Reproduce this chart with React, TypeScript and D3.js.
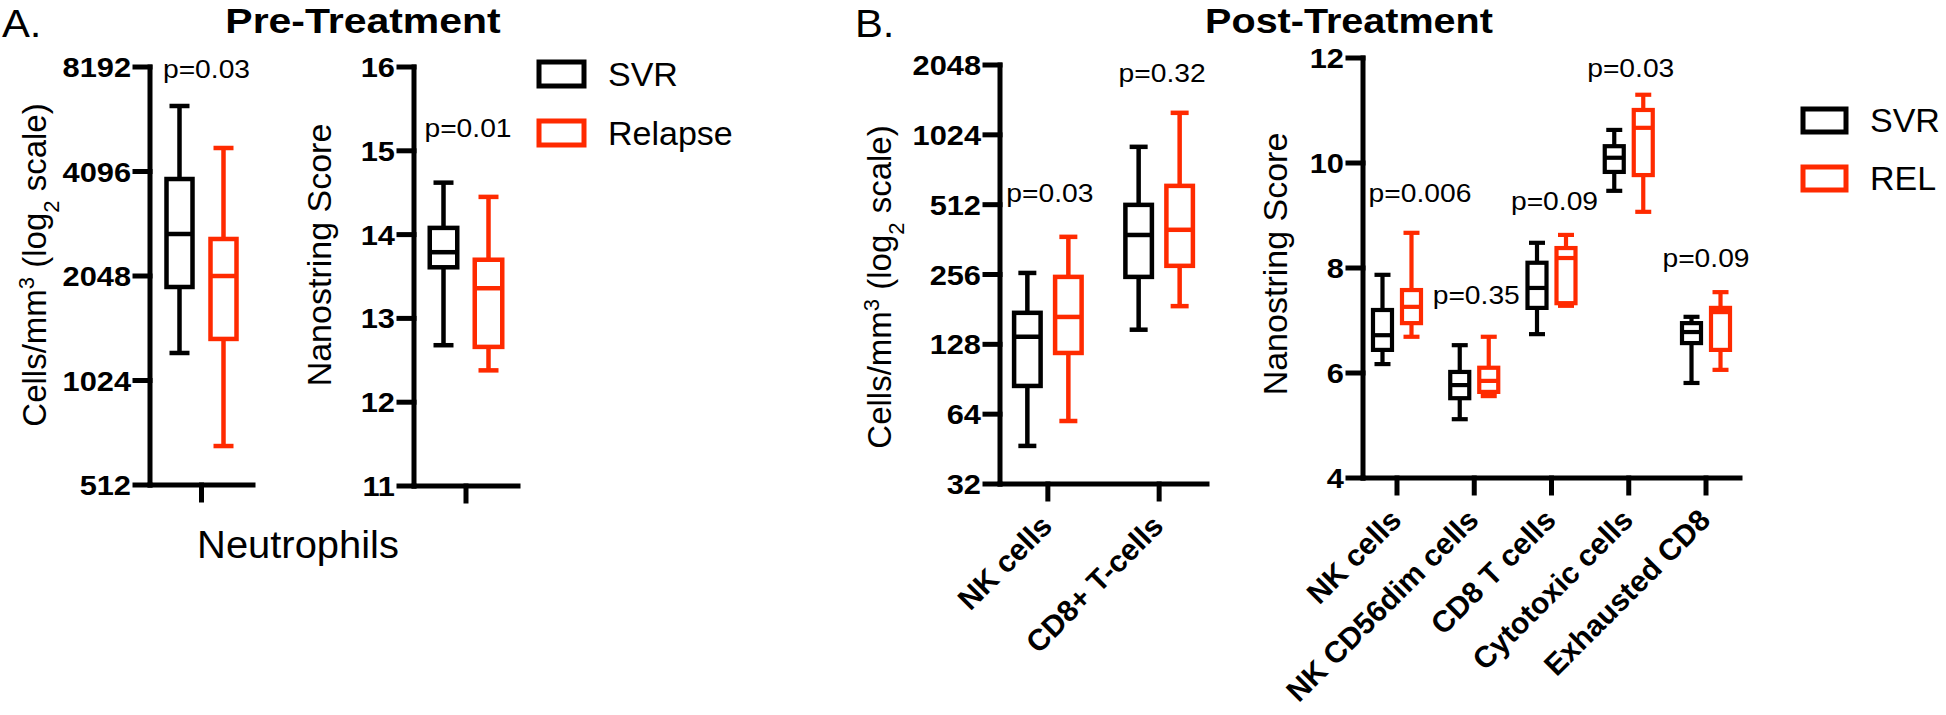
import React from "react";
import * as d3 from "d3";

const FONT = "'Liberation Sans', Arial, Helvetica, sans-serif";
const RED = "#ff2a00";
const BLACK = "#000000";

// ---------------- data (five-number summaries: min, q1, median, q3, max) ----------------
const preCategories = ["Neutrophils"];
const preCountSVR = [[1229, 1904, 2706, 3897, 6325]];
const preCountREL = [[663, 1349, 2048, 2618, 4787]];
const preCountTicks = [512, 1024, 2048, 4096, 8192];
const preCountP = ["p=0.03"];
const preCountPY = [7617];

const preScoreSVR = [[12.68, 13.61, 13.79, 14.08, 14.62]];
const preScoreREL = [[12.38, 12.66, 13.36, 13.7, 14.45]];
const preScoreTicks = [11, 12, 13, 14, 15, 16];
const preScoreP = ["p=0.01"];
const preScorePY = [15.16];

const postCountCategories = ["NK cells", "CD8+ T-cells"];
const postCountSVR = [
  [46.7, 84.7, 138, 175, 260],
  [148, 250, 379, 511, 909],
];
const postCountREL = [
  [59.8, 117.5, 168, 250, 372],
  [187, 279, 399, 617, 1274],
];
const postCountTicks = [32, 64, 128, 256, 512, 1024, 2048];
const postCountP = ["p=0.03", "p=0.32"];
const postCountPY = [526, 1733];

const postScoreCategories = ["NK cells", "NK CD56dim cells", "CD8 T cells", "Cytotoxic cells", "Exhausted CD8"];
const postScoreSVR = [
  [6.17, 6.44, 6.72, 7.2, 7.87],
  [5.12, 5.52, 5.77, 6.02, 6.53],
  [6.74, 7.24, 7.62, 8.1, 8.48],
  [9.47, 9.83, 10.1, 10.32, 10.63],
  [5.81, 6.57, 6.78, 6.95, 7.07],
];
const postScoreREL = [
  [6.69, 6.95, 7.26, 7.58, 8.67],
  [5.56, 5.64, 5.85, 6.1, 6.69],
  [7.28, 7.33, 8.19, 8.38, 8.63],
  [9.07, 9.77, 10.67, 11.01, 11.3],
  [6.06, 6.44, 7.16, 7.24, 7.54],
];
const postScoreTicks = [4, 6, 8, 10, 12];
const postScoreP = ["p=0.006", "p=0.35", "p=0.09", "p=0.03", "p=0.09"];
const postScorePY = [9.26, 7.31, 9.1, 11.64, 8.02];

const preLegend = ["SVR", "Relapse"];
const postLegend = ["SVR", "REL"];

// label nudges (layout only)
const preCountPNudge = [5];
const preScorePNudge = [2];
const postCountPNudge = [2, 3];
const postScorePNudge = [23, 2, 3, 2, 0];

// ---------------- helpers ----------------
type TProps = {
  x: number;
  y: number;
  sx?: number;
  rot?: number;
  anchor?: "start" | "middle" | "end";
  size: number;
  weight?: string;
  dy?: string;
  children: React.ReactNode;
};
function T({ x, y, sx = 1, rot = 0, anchor = "start", size, weight = "normal", dy, children }: TProps) {
  return (
    <text
      transform={`translate(${x},${y}) scale(${sx},1) rotate(${rot})`}
      textAnchor={anchor}
      fontSize={size}
      fontWeight={weight}
      fontFamily={FONT}
      fill={BLACK}
      dy={dy}
    >
      {children}
    </text>
  );
}

function Box({ cx, s, y, w, cap, color, sw }: any) {
  const [mn, q1, md, q3, mx] = s;
  return (
    <g stroke={color} strokeWidth={sw} fill="none">
      <line x1={cx} x2={cx} y1={y(q3)} y2={y(mx)} />
      <line x1={cx} x2={cx} y1={y(q1)} y2={y(mn)} />
      <line x1={cx - cap / 2} x2={cx + cap / 2} y1={y(mx)} y2={y(mx)} />
      <line x1={cx - cap / 2} x2={cx + cap / 2} y1={y(mn)} y2={y(mn)} />
      <rect x={cx - w / 2} y={y(q3)} width={w} height={y(q1) - y(q3)} fill="#ffffff" />
      <line x1={cx - w / 2} x2={cx + w / 2} y1={y(md)} y2={y(md)} />
    </g>
  );
}

type PanelProps = {
  cats: string[];
  svr: number[][];
  rel: number[][];
  ticks: number[];
  log: boolean;
  x0: number;
  x1: number;
  pad: number;
  yTop: number;
  yBottom: number;
  offset: number;
  bw: number;
  cap: number;
  sw: number;
  pLabels: string[];
  pY: number[];
  pNudge: number[];
  rotateLabels: boolean;
};

function BoxPanel(p: PanelProps) {
  const x = d3.scalePoint<string>().domain(p.cats).range([p.x0, p.x1]).padding(p.pad);
  const domain = [p.ticks[0], p.ticks[p.ticks.length - 1]];
  const y: any = p.log
    ? d3.scaleLog().base(2).domain(domain).range([p.yBottom, p.yTop])
    : d3.scaleLinear().domain(domain).range([p.yBottom, p.yTop]);
  return (
    <g>
      {/* axes */}
      <g stroke={BLACK} strokeWidth={5} strokeLinecap="square">
        <line x1={p.x0} x2={p.x0} y1={p.yTop} y2={p.yBottom} />
        <line x1={p.x0} x2={p.x1} y1={p.yBottom} y2={p.yBottom} />
        {p.ticks.map((t) => (
          <line key={t} x1={p.x0 - 15} x2={p.x0} y1={y(t)} y2={y(t)} />
        ))}
        {p.cats.map((c) => (
          <line key={c} x1={x(c)} x2={x(c)} y1={p.yBottom} y2={p.yBottom + 15} />
        ))}
      </g>
      {p.ticks.map((t) => (
        <T key={t} x={p.x0 - 19} y={y(t)} dy="0.36em" anchor="end" size={28} weight="bold" sx={1.1}>
          {String(t)}
        </T>
      ))}
      {p.rotateLabels &&
        p.cats.map((c) => (
          <T key={c} x={(x(c) as number) + 6} y={p.yBottom + 44} rot={-45} anchor="end" size={30} weight="bold">
            {c}
          </T>
        ))}
      {/* boxes */}
      {p.cats.map((c, i) => (
        <g key={c}>
          <Box cx={(x(c) as number) - p.offset} s={p.svr[i]} y={y} w={p.bw} cap={p.cap} color={BLACK} sw={p.sw} />
          <Box cx={(x(c) as number) + p.offset} s={p.rel[i]} y={y} w={p.bw} cap={p.cap} color={RED} sw={p.sw} />
        </g>
      ))}
      {p.pLabels.map((l, i) => (
        <T key={i} x={(x(p.cats[i]) as number) + p.pNudge[i]} y={y(p.pY[i])} anchor="middle" size={25} sx={1.13}>
          {l}
        </T>
      ))}
    </g>
  );
}

function Legend({ x, y0, gap, names, w, h }: any) {
  const colors = [BLACK, RED];
  return (
    <g>
      {names.map((n: string, i: number) => (
        <g key={n}>
          <rect x={x} y={y0 + i * gap} width={w} height={h} fill="#fff" stroke={colors[i]} strokeWidth={5} />
          <T x={x + w + 24} y={y0 + i * gap + h} size={34}>
            {n}
          </T>
        </g>
      ))}
    </g>
  );
}

function CellsLabel({ x, y }: { x: number; y: number }) {
  return (
    <text transform={`translate(${x},${y}) rotate(-90)`} textAnchor="middle" fontSize={33} fontFamily={FONT} fill={BLACK}>
      <tspan>Cells/mm</tspan>
      <tspan baselineShift="super" fontSize={22}>3</tspan>
      <tspan> (log</tspan>
      <tspan baselineShift="sub" fontSize={22}>2</tspan>
      <tspan> scale)</tspan>
    </text>
  );
}

export default function App() {
  return (
    <svg
      width={1946}
      height={715}
      viewBox="0 0 1946 715"
      style={{ position: "absolute", left: 0, top: 0, background: "#fff" }}
    >
      <rect x={0} y={0} width={1946} height={715} fill="#fff" />
      {/* Panel labels and titles */}
      <T x={2} y={37} size={38} sx={1.1}>A.</T>
      <T x={855} y={37} size={38} sx={1.1}>B.</T>
      <T x={363} y={33} size={35} weight="bold" anchor="middle" sx={1.17}>Pre-Treatment</T>
      <T x={1349} y={33} size={35} weight="bold" anchor="middle" sx={1.13}>Post-Treatment</T>

      {/* A1 */}
      <CellsLabel x={46} y={265} />
      <BoxPanel
        cats={preCategories}
        svr={preCountSVR}
        rel={preCountREL}
        ticks={preCountTicks}
        log={true}
        x0={150}
        x1={253}
        pad={0.5}
        yTop={67}
        yBottom={485}
        offset={22}
        bw={26}
        cap={20}
        sw={4.5}
        pLabels={preCountP}
        pY={preCountPY}
        pNudge={preCountPNudge}
        rotateLabels={false}
      />
      {/* A2 */}
      <T x={331} y={255} rot={-90} anchor="middle" size={34}>Nanostring Score</T>
      <BoxPanel
        cats={preCategories}
        svr={preScoreSVR}
        rel={preScoreREL}
        ticks={preScoreTicks}
        log={false}
        x0={414}
        x1={518}
        pad={0.5}
        yTop={67}
        yBottom={486}
        offset={22.5}
        bw={27.5}
        cap={20}
        sw={4.5}
        pLabels={preScoreP}
        pY={preScorePY}
        pNudge={preScorePNudge}
        rotateLabels={false}
      />
      <T x={298} y={558} size={38} anchor="middle" sx={1.05}>{preCategories[0]}</T>
      <Legend x={539} y0={62} gap={59} names={preLegend} w={45} h={24} />

      {/* B1 */}
      <CellsLabel x={891} y={287} />
      <BoxPanel
        cats={postCountCategories}
        svr={postCountSVR}
        rel={postCountREL}
        ticks={postCountTicks}
        log={true}
        x0={1000}
        x1={1207}
        pad={0.43}
        yTop={65}
        yBottom={484}
        offset={20.5}
        bw={26.5}
        cap={18}
        sw={4.5}
        pLabels={postCountP}
        pY={postCountPY}
        pNudge={postCountPNudge}
        rotateLabels={true}
      />
      {/* B2 */}
      <T x={1287} y={264} rot={-90} anchor="middle" size={34}>Nanostring Score</T>
      <BoxPanel
        cats={postScoreCategories}
        svr={postScoreSVR}
        rel={postScoreREL}
        ticks={postScoreTicks}
        log={false}
        x0={1363}
        x1={1740}
        pad={0.44}
        yTop={58}
        yBottom={478}
        offset={14.5}
        bw={19}
        cap={16}
        sw={4.2}
        pLabels={postScoreP}
        pY={postScorePY}
        pNudge={postScorePNudge}
        rotateLabels={true}
      />
      <Legend x={1803} y0={109} gap={58} names={postLegend} w={43} h={23} />
    </svg>
  );
}
